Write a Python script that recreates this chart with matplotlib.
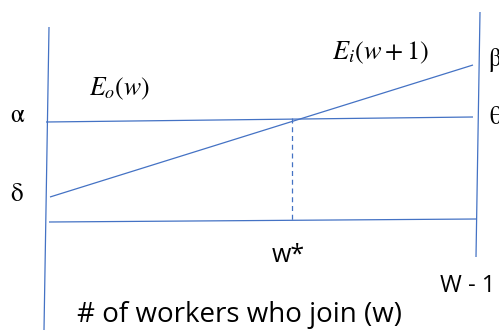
import matplotlib
matplotlib.use("Agg")
import matplotlib.pyplot as plt

# diagram geometry in picture units (x right, y down)
left_axis_x = [49, 44]
left_axis_y = [27, 330]
right_axis_x = [480, 476]
right_axis_y = [12, 257]

theta_x = [46, 473]
theta_y = [122, 117]
floor_x = [49, 477]
floor_y = [222, 219]
rising_x = [50, 473]
rising_y = [197, 65]

wstar_x = [292, 292]
wstar_y = [118, 220]

blue = "#4472C4"

plt.rcParams["mathtext.fontset"] = "stix"
plt.rcParams["font.family"] = ["Open Sans", "DejaVu Sans"]

fig = plt.figure(figsize=(4.99, 3.31), dpi=100)
ax = fig.add_axes([0, 0, 1, 1])
ax.set_xlim(0, 499)
ax.set_ylim(331, 0)
ax.axis("off")

for xs, ys in [(left_axis_x, left_axis_y), (right_axis_x, right_axis_y),
               (theta_x, theta_y), (floor_x, floor_y), (rising_x, rising_y)]:
    ax.plot(xs, ys, color=blue, lw=0.9, solid_capstyle="butt")
ax.plot(wstar_x, wstar_y, color=blue, lw=0.9, ls=(0, (4, 3)))

greek = dict(fontsize=18, family="STIXGeneral")
ax.text(17, 122, "α", ha="center", va="baseline", **greek)
ax.text(17, 201, "δ", ha="center", va="baseline", **greek)
ax.text(489, 66, "β", ha="left", va="baseline", **greek)
ax.text(489, 124, "θ", ha="left", va="baseline", **greek)
ax.text(89, 95, r"$E_o(w)$", fontsize=18.5, ha="left", va="baseline")
ax.text(332, 59, r"$E_i(w+1)$", fontsize=19, ha="left", va="baseline")
ax.text(288, 262, "w*", fontsize=18, ha="center", va="baseline")
ax.text(440, 292, "W - 1", fontsize=17, ha="left", va="baseline")
ax.text(77, 322, "# of workers who join (w)", fontsize=20, ha="left", va="baseline")

fig.savefig("out.png", dpi=100)
